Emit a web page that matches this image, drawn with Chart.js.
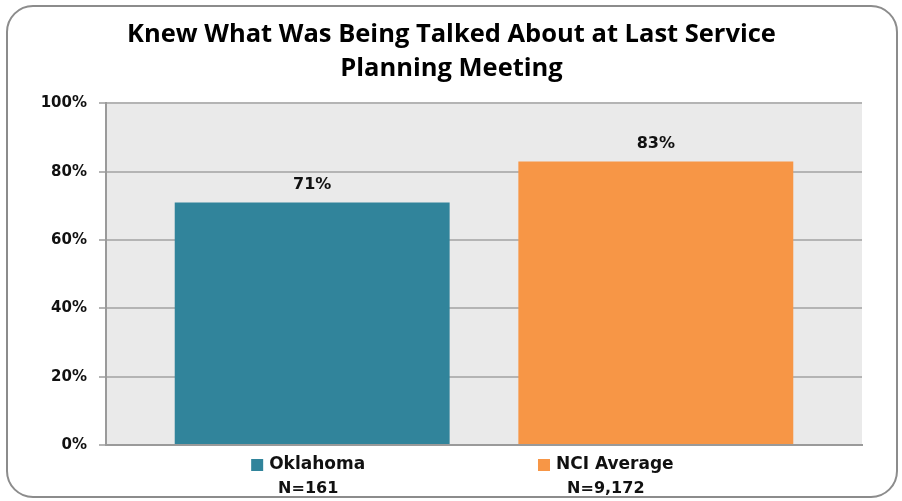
<!DOCTYPE html>
<html>
<head>
<meta charset="utf-8">
<script src="https://cdn.jsdelivr.net/npm/chart.js@4"></script>
<style>
  html, body { margin: 0; padding: 0; background: #fff; }
  #wrap { width: 902px; height: 501px; position: relative; }
</style>
</head>
<body>
<div id="wrap"><canvas id="surveyChart"></canvas></div>
<script>
// 数据
const categories = ['Oklahoma', 'NCI Average'];
const sampleSizes = ['N=161', 'N=9,172'];
const percentValues = [71, 83];
const barColors = ['#31849b', '#f79646'];
const yTicks = [0, 20, 40, 60, 80, 100];
const titleLines = ['Knew What Was Being Talked About at Last Service', 'Planning Meeting'];

const nameFont = 'bold 17px "DejaVu Sans", Verdana, sans-serif';
const labelFont = 'bold 16px "DejaVu Sans", Verdana, sans-serif';
// 分类标签在原图中相对柱中心的水平偏移
const labelShift = [-4, -50];

// 外框 + 绘图区背景
const frameAndBackground = {
    id: 'frameAndBackground',
    beforeDraw(chart) {
        const { ctx, chartArea } = chart;
        ctx.save();
        ctx.strokeStyle = '#8c8c8c';
        ctx.lineWidth = 2;
        ctx.beginPath();
        ctx.roundRect(7, 6, 890, 491, 26);
        ctx.stroke();
        ctx.fillStyle = '#eaeaea';
        ctx.fillRect(chartArea.left, chartArea.top, chartArea.right - chartArea.left, chartArea.bottom - chartArea.top);
        ctx.restore();
    },
};

// 柱顶数值 + 分类名(带彩色方块) + 样本量
const valueAndLegendMarks = {
    id: 'valueAndLegendMarks',
    afterDatasetsDraw(chart) {
        const { ctx, chartArea } = chart;
        const meta = chart.getDatasetMeta(0);
        const xScale = chart.scales.x;
        ctx.save();
        ctx.textBaseline = 'middle';
        meta.data.forEach((bar, i) => {
            ctx.font = labelFont;
            ctx.fillStyle = '#111';
            ctx.textAlign = 'center';
            ctx.fillText(percentValues[i] + '%', bar.x, bar.y - 18);

            const cx = xScale.getPixelForValue(i) + labelShift[i];
            const yBase = chartArea.bottom;
            ctx.fillText(sampleSizes[i], cx, yBase + 44);

            ctx.font = nameFont;
            const name = categories[i];
            const w = ctx.measureText(name).width;
            const left = cx - (w + 18) / 2;
            ctx.fillStyle = barColors[i];
            ctx.fillRect(left, yBase + 14, 12, 12);
            ctx.fillStyle = '#111';
            ctx.textAlign = 'left';
            ctx.fillText(name, left + 18, yBase + 20);
        });
        ctx.restore();
    },
};

new Chart(document.getElementById('surveyChart'), {
    type: 'bar',
    data: {
        datasets: [
            {
                data: percentValues.map((v, i) => ({ x: i, y: v })),
                backgroundColor: barColors,
                borderWidth: 0,
                barPercentage: 0.8,
                categoryPercentage: 1,
            },
        ],
    },
    options: {
        responsive: true,
        maintainAspectRatio: false,
        animation: false,
        layout: { padding: { left: 41, right: 40, top: 18, bottom: 56 } },
        plugins: {
            legend: { display: false },
            tooltip: { enabled: false },
            title: {
                display: true,
                text: titleLines,
                color: '#000',
                font: { family: '"Open Sans", sans-serif', size: 25.5, weight: 'bold', lineHeight: 1.32 },
                padding: { top: 0, bottom: 18 },
            },
        },
        scales: {
            x: {
                type: 'linear',
                offset: false,
                min: -0.6,
                max: 1.6,
                afterBuildTicks: (axis) => {
                    axis.ticks = categories.map((c, i) => ({ value: i }));
                },
                grid: { display: false, drawTicks: false },
                border: { display: true, color: '#9a9a9a', width: 2 },
                ticks: { display: false },
            },
            y: {
                min: 0,
                max: 100,
                afterBuildTicks: (axis) => {
                    axis.ticks = yTicks.map((v) => ({ value: v }));
                },
                afterFit: (axis) => {
                    axis.width = 65;
                },
                grid: { color: '#b4b4b4', lineWidth: 2, tickLength: 7 },
                border: { display: true, color: '#9a9a9a', width: 2 },
                ticks: {
                    color: '#111',
                    font: { family: '"DejaVu Sans", Verdana, sans-serif', size: 15, weight: 'bold' },
                    padding: 12,
                    callback: (val) => val + '%',
                },
            },
        },
    },
    plugins: [frameAndBackground, valueAndLegendMarks],
});
</script>
</body>
</html>
